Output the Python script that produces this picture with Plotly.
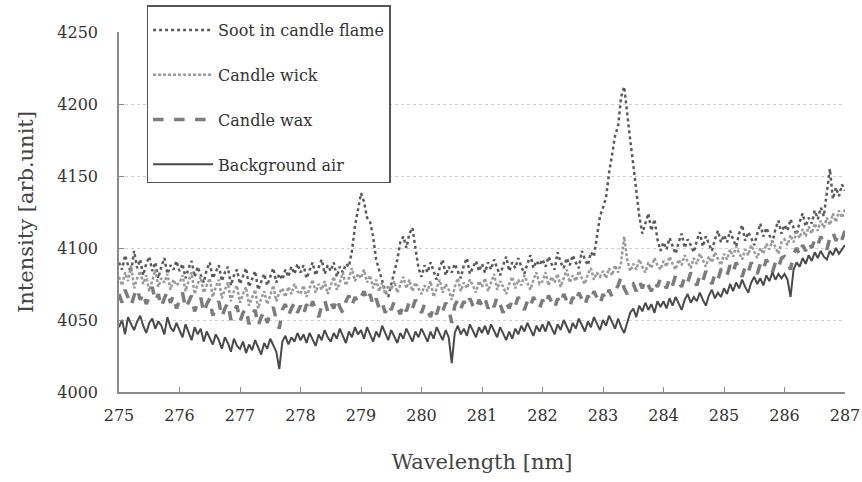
import numpy as np
import plotly.graph_objects as go

# Wavelength grid: 275.00 .. 287.00 nm, step 0.05 nm (241 points)
wavelength = [round(275 + 0.05 * i, 2) for i in range(241)]

soot = [
    4090,4085,4095,4088,4083,4098,4086,4092,4081,4089,4094,4084,4090,4079,4087,4093,4082,4088,4085,4091,
    4084,4089,4079,4086,4091,4080,4087,4082,4076,4085,4090,4079,4084,4088,4077,4083,4087,4074,4081,4085,
    4075,4081,4086,4073,4079,4084,4071,4077,4082,4074,4080,4086,4076,4082,4078,4085,4080,4087,4082,4089,
    4083,4088,4079,4085,4090,4081,4086,4092,4082,4088,4084,4090,4080,4087,4083,4089,4087,4098,4115,4128,
    4138,4132,4121,4118,4108,4092,4084,4078,4070,4066,4075,4082,4092,4104,4108,4100,4110,4114,4098,4086,
    4080,4088,4083,4090,4084,4078,4086,4092,4081,4087,4083,4089,4084,4079,4088,4093,4082,4087,4091,4084,
    4089,4083,4090,4085,4092,4086,4081,4088,4094,4084,4090,4086,4093,4087,4082,4089,4095,4086,4091,4088,
    4092,4087,4094,4089,4085,4097,4090,4086,4093,4088,4095,4090,4086,4098,4092,4088,4097,4094,4108,4122,
    4128,4135,4152,4166,4178,4185,4205,4212,4192,4175,4158,4140,4122,4110,4118,4124,4112,4120,4106,4098,
    4104,4099,4107,4101,4096,4104,4110,4100,4106,4102,4097,4105,4111,4101,4108,4103,4098,4106,4112,4104,
    4109,4104,4112,4106,4101,4110,4116,4105,4111,4107,4102,4110,4117,4108,4114,4109,4104,4113,4119,4110,
    4116,4112,4120,4114,4109,4118,4124,4115,4121,4117,4126,4120,4128,4122,4138,4155,4134,4142,4136,4144,
    4140,
]

wick = [
    4080,4074,4083,4077,4088,4072,4079,4084,4075,4081,4070,4078,4085,4073,4079,4076,4082,4071,4078,4074,
    4076,4081,4070,4077,4083,4068,4075,4080,4069,4074,4079,4066,4073,4078,4065,4071,4076,4063,4070,4074,
    4062,4068,4073,4060,4066,4071,4058,4065,4070,4061,4067,4074,4063,4069,4072,4066,4073,4068,4075,4070,
    4068,4074,4066,4072,4078,4069,4075,4071,4077,4068,4074,4080,4071,4076,4083,4074,4079,4086,4077,4082,
    4079,4085,4076,4081,4072,4078,4070,4076,4068,4074,4071,4077,4069,4075,4080,4072,4078,4070,4076,4072,
    4068,4074,4070,4077,4066,4072,4078,4069,4075,4071,4064,4073,4079,4070,4076,4072,4078,4074,4069,4077,
    4073,4079,4070,4076,4082,4071,4077,4073,4068,4075,4080,4072,4078,4074,4081,4076,4071,4078,4083,4075,
    4077,4083,4074,4080,4076,4082,4073,4079,4085,4076,4081,4077,4084,4079,4075,4082,4086,4078,4083,4080,
    4084,4079,4086,4081,4088,4083,4090,4108,4092,4084,4089,4085,4092,4087,4083,4090,4086,4093,4088,4085,
    4091,4087,4094,4089,4085,4092,4088,4095,4090,4086,4093,4089,4096,4091,4087,4094,4090,4097,4092,4088,
    4096,4092,4099,4094,4101,4096,4092,4099,4095,4102,4097,4093,4100,4096,4103,4099,4105,4100,4096,4104,
    4106,4102,4109,4104,4111,4107,4113,4108,4115,4110,4117,4112,4119,4114,4121,4116,4124,4118,4126,4121,
    4127,
]

wax = [
    4068,4062,4071,4065,4060,4067,4072,4064,4069,4061,4066,4073,4063,4068,4059,4065,4070,4062,4067,4058,
    4064,4069,4058,4063,4067,4056,4062,4066,4055,4061,4065,4053,4059,4063,4052,4058,4062,4050,4056,4060,
    4049,4055,4058,4047,4054,4057,4046,4052,4056,4048,4055,4059,4050,4044,4057,4061,4053,4058,4062,4055,
    4060,4054,4061,4056,4063,4057,4052,4060,4064,4056,4062,4058,4065,4059,4055,4063,4067,4060,4066,4062,
    4066,4070,4063,4068,4060,4065,4058,4062,4055,4061,4057,4063,4059,4054,4061,4056,4063,4058,4064,4059,
    4055,4061,4057,4052,4059,4054,4061,4056,4062,4058,4048,4060,4064,4058,4063,4059,4065,4060,4057,4064,
    4060,4065,4058,4063,4059,4066,4061,4055,4062,4058,4064,4060,4066,4061,4057,4063,4059,4066,4062,4058,
    4064,4060,4067,4062,4058,4065,4061,4068,4063,4059,4066,4062,4069,4064,4060,4067,4063,4070,4065,4061,
    4068,4064,4071,4066,4070,4074,4080,4072,4068,4073,4075,4070,4077,4072,4078,4074,4070,4077,4073,4079,
    4076,4072,4079,4074,4081,4077,4073,4080,4076,4083,4078,4074,4081,4077,4084,4079,4075,4082,4078,4085,
    4086,4081,4088,4083,4090,4085,4080,4087,4083,4090,4086,4082,4089,4085,4092,4087,4083,4090,4086,4093,
    4094,4090,4085,4096,4100,4095,4102,4098,4104,4100,4106,4102,4108,4103,4099,4107,4111,4105,4110,4106,
    4112,
]

background = [
    4045,4050,4040,4052,4047,4043,4049,4053,4046,4041,4048,4051,4044,4049,4046,4040,4052,4045,4042,4048,
    4043,4038,4047,4041,4036,4045,4040,4044,4035,4042,4038,4033,4040,4036,4030,4038,4034,4028,4037,4032,
    4030,4035,4027,4033,4029,4036,4031,4026,4034,4030,4037,4032,4028,4016,4035,4039,4033,4038,4035,4041,
    4036,4040,4034,4041,4037,4032,4040,4036,4043,4038,4035,4041,4037,4044,4039,4034,4042,4038,4045,4040,
    4043,4037,4045,4040,4035,4042,4038,4046,4041,4036,4043,4039,4034,4041,4037,4044,4039,4035,4042,4038,
    4044,4039,4035,4042,4037,4045,4040,4036,4043,4038,4020,4041,4046,4040,4044,4039,4047,4042,4038,4045,
    4041,4046,4040,4047,4043,4038,4045,4041,4036,4042,4037,4044,4040,4046,4042,4048,4043,4039,4046,4042,
    4047,4042,4049,4044,4040,4047,4043,4050,4045,4041,4048,4044,4051,4046,4042,4049,4045,4052,4047,4043,
    4050,4046,4053,4048,4044,4051,4045,4041,4048,4055,4058,4052,4060,4056,4062,4057,4061,4055,4063,4059,
    4063,4058,4065,4060,4066,4061,4057,4064,4068,4062,4066,4063,4069,4064,4060,4067,4071,4065,4069,4066,
    4072,4068,4075,4070,4076,4072,4078,4073,4069,4076,4080,4075,4079,4074,4081,4077,4083,4078,4082,4079,
    4082,4078,4066,4085,4090,4087,4093,4089,4095,4091,4097,4093,4098,4094,4092,4098,4095,4100,4096,4099,
    4102,
]

x_ticks = list(range(275, 288))
y_ticks = [4000, 4050, 4100, 4150, 4200, 4250]

FONT = "DejaVu Serif"

fig = go.Figure()
series = [
    ("Soot in candle flame", soot, dict(color="#5a5a5a", width=2.5, dash="dot")),
    ("Candle wick", wick, dict(color="#9a9a9a", width=2.5, dash="3px,2px")),
    ("Candle wax", wax, dict(color="#7c7c7c", width=3.5, dash="dash")),
    ("Background air", background, dict(color="#4a4a4a", width=2)),
]
for name, vals, line in series:
    fig.add_trace(go.Scatter(x=wavelength, y=vals, mode="lines", name=name,
                             line=line, legendgroup=name))

fig.update_layout(
    width=862, height=482,
    margin=dict(l=119, r=17, t=32, b=90, autoexpand=False),
    paper_bgcolor="white", plot_bgcolor="white",
    font=dict(family=FONT, color="#333333"),
    legend=dict(
        x=0.038, y=1.075, xanchor="left", yanchor="top",
        bgcolor="white", bordercolor="#555555", borderwidth=1.5,
        font=dict(family=FONT, size=16, color="#333333"),
        title=dict(text=" ", font=dict(size=5)),
        tracegroupgap=21, itemwidth=60,
    ),
)
fig.update_xaxes(
    range=[275, 287], tickvals=x_ticks, ticktext=[str(v) for v in x_ticks],
    showgrid=False, zeroline=False, automargin=False,
    showline=True, linecolor="#8a8a8a", linewidth=1.5,
    ticks="inside", ticklen=5, tickcolor="#8a8a8a",
    tickfont=dict(family=FONT, size=16, color="#333333"),
    ticklabelstandoff=8,
    title=dict(text="Wavelength [nm]", font=dict(family=FONT, size=21, color="#444444"), standoff=30),
)
fig.update_yaxes(
    range=[4000, 4250], tickvals=y_ticks, ticktext=[str(v) for v in y_ticks],
    showgrid=True, gridcolor="#d0d0d0", griddash="dot", gridwidth=1,
    zeroline=False, automargin=False,
    showline=True, linecolor="#8a8a8a", linewidth=1.5,
    ticks="inside", ticklen=5, tickcolor="#8a8a8a",
    tickfont=dict(family=FONT, size=16, color="#333333"),
    ticklabelstandoff=16,
    title=dict(text="Intensity [arb.unit]", font=dict(family=FONT, size=21, color="#444444"), standoff=18),
)

fig.write_html("out.html")
